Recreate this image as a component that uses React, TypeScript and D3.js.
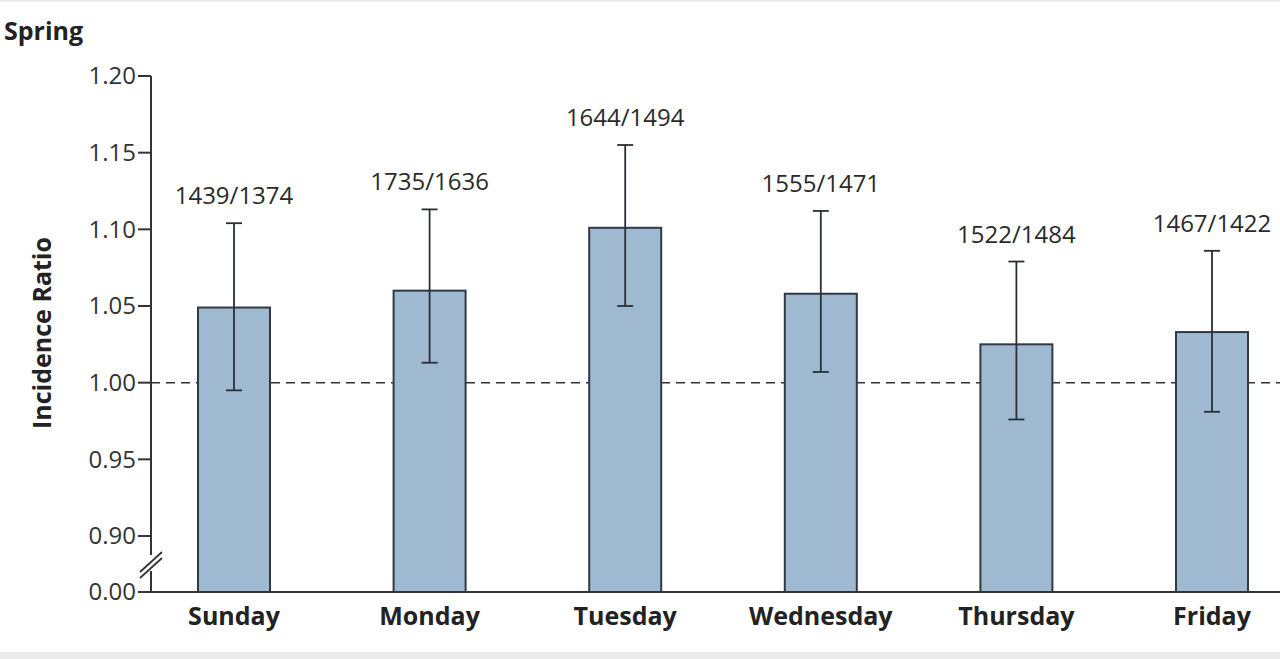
import * as d3 from "d3";

// Spring incidence ratios by day of week
const days = ["Sunday", "Monday", "Tuesday", "Wednesday", "Thursday", "Friday"];
const ratio = [1.049, 1.06, 1.101, 1.058, 1.025, 1.033];
const lower = [0.995, 1.013, 1.05, 1.007, 0.976, 0.981];
const upper = [1.104, 1.113, 1.155, 1.112, 1.079, 1.086];
const counts = ["1439/1374", "1735/1636", "1644/1494", "1555/1471", "1522/1484", "1467/1422"];
const yTicks = [0.0, 0.9, 0.95, 1.0, 1.05, 1.1, 1.15, 1.2];

const width = 1280;
const height = 659;
const font = "'Open Sans', sans-serif";

export default function App() {
  const axisX = 151;
  const baseY = 592;

  // broken axis: 0 sits a little below 0.90
  const y = d3.scaleLinear().domain([0, 0.9, 1.2]).range([baseY, 536, 76]);
  const x = d3.scalePoint<string>().domain(days).range([234, 1212]);
  const barW = 72;
  const capW = 16;

  return (
    <svg
      width={width}
      height={height}
      style={{ position: "absolute", left: 0, top: 0, background: "#fff" }}
    >
      <rect x={0} y={0} width={width} height={2} fill="#ececec" />
      <rect x={0} y={652} width={width} height={7} fill="#ebebeb" />

      <text x={4} y={40} fontFamily={font} fontWeight="bold" fontSize={25} fill="#222">
        Spring
      </text>

      <text
        transform={`translate(51,333) rotate(-90)`}
        textAnchor="middle"
        fontFamily={font}
        fontWeight="bold"
        fontSize={25}
        fill="#222"
      >
        Incidence Ratio
      </text>

      {/* reference line at 1.00 */}
      <line
        x1={axisX}
        x2={width}
        y1={y(1)}
        y2={y(1)}
        stroke="#333"
        strokeWidth={1.5}
        strokeDasharray="9,6"
      />

      {days.map((d, i) => (
        <g key={d}>
          <rect
            x={x(d)! - barW / 2}
            y={y(ratio[i])}
            width={barW}
            height={baseY - y(ratio[i])}
            fill="#9fb9d1"
            stroke="#2f3a46"
            strokeWidth={2}
          />
          <line x1={x(d)} x2={x(d)} y1={y(lower[i])} y2={y(upper[i])} stroke="#2a2f36" strokeWidth={1.8} />
          <line x1={x(d)! - capW / 2} x2={x(d)! + capW / 2} y1={y(upper[i])} y2={y(upper[i])} stroke="#2a2f36" strokeWidth={1.8} />
          <line x1={x(d)! - capW / 2} x2={x(d)! + capW / 2} y1={y(lower[i])} y2={y(lower[i])} stroke="#2a2f36" strokeWidth={1.8} />
          <text
            x={x(d)}
            y={y(upper[i]) - 19}
            textAnchor="middle"
            fontFamily={font}
            fontSize={24}
            fill="#2a2a2a"
          >
            {counts[i]}
          </text>
          <text
            x={x(d)}
            y={625}
            textAnchor="middle"
            fontFamily={font}
            fontWeight="bold"
            fontSize={25}
            fill="#222"
          >
            {d}
          </text>
        </g>
      ))}

      {/* axes */}
      <line x1={axisX} x2={width} y1={baseY} y2={baseY} stroke="#333" strokeWidth={2} />
      <line x1={axisX} x2={axisX} y1={76} y2={baseY} stroke="#333" strokeWidth={2} />
      {yTicks.map((t) => (
        <g key={t}>
          <line x1={axisX - 13} x2={axisX} y1={y(t)} y2={y(t)} stroke="#333" strokeWidth={2} />
          <text
            x={axisX - 15}
            y={y(t)}
            dy="0.35em"
            textAnchor="end"
            fontFamily={font}
            fontSize={24}
            fill="#333"
          >
            {t.toFixed(2)}
          </text>
        </g>
      ))}
      {/* axis break marks */}
      <rect x={axisX - 3} y={555} width={6} height={16} fill="#fff" />
      <line x1={140} x2={162} y1={572} y2={552} stroke="#333" strokeWidth={1.8} />
      <line x1={140} x2={162} y1={578} y2={558} stroke="#333" strokeWidth={1.8} />
    </svg>
  );
}
